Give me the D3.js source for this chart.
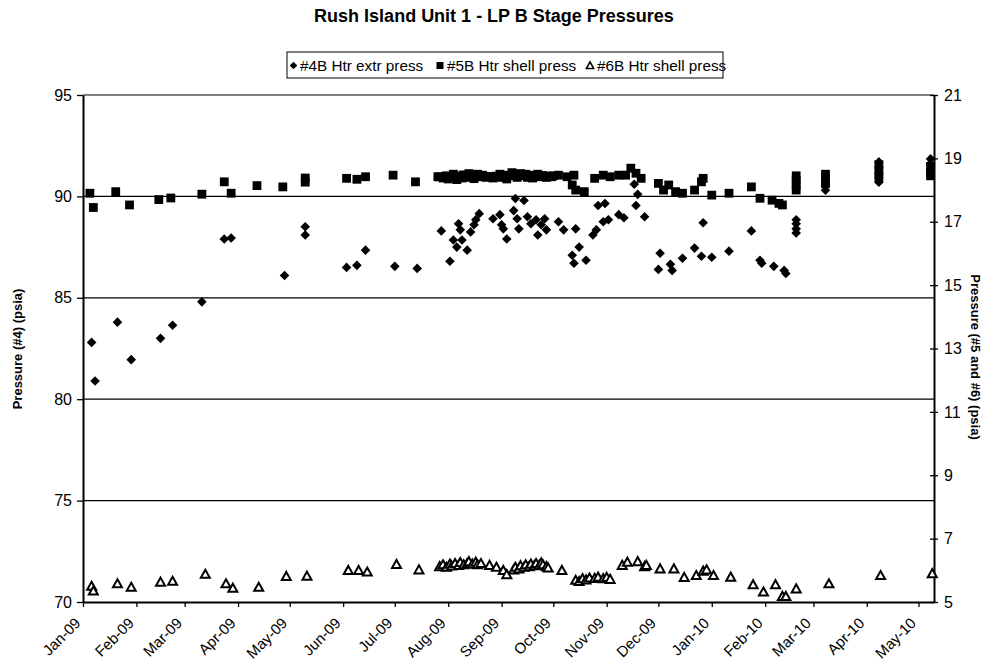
<!DOCTYPE html>
<html>
<head>
<meta charset="utf-8">
<script src="https://cdn.jsdelivr.net/npm/d3@7"></script>
<style>
  body { margin: 0; background: #fff; }
  svg text { font-family: "Liberation Sans", Arial, sans-serif; fill: #000; }
</style>
</head>
<body>
<svg id="chart" width="985" height="664"></svg>
<script>
// month ticks on the date axis and their labels
const monthTicks = ["2009-01-01", "2009-02-01", "2009-03-01", "2009-04-01", "2009-05-01",
                    "2009-06-01", "2009-07-01", "2009-08-01", "2009-09-01", "2009-10-01",
                    "2009-11-01", "2009-12-01", "2010-01-01", "2010-02-01", "2010-03-01",
                    "2010-04-01", "2010-05-01"];
const monthLabels = ["Jan-09", "Feb-09", "Mar-09", "Apr-09", "May-09", "Jun-09", "Jul-09",
                     "Aug-09", "Sep-09", "Oct-09", "Nov-09", "Dec-09", "Jan-10", "Feb-10",
                     "Mar-10", "Apr-10", "May-10"];
const leftTicks = [70, 75, 80, 85, 90, 95];
const rightTicks = [5, 7, 9, 11, 13, 15, 17, 19, 21];

// #4B Htr extr press (left axis)
const extr4B = [
  ["2009-01-06", 82.8], ["2009-01-08", 80.9], ["2009-01-21", 83.8], ["2009-01-29", 81.95],
  ["2009-02-15", 83.0], ["2009-02-22", 83.65], ["2009-03-11", 84.8], ["2009-03-24", 87.9],
  ["2009-03-28", 87.95], ["2009-04-28", 86.1], ["2009-05-10", 88.5], ["2009-05-10", 88.1],
  ["2009-06-03", 86.5], ["2009-06-09", 86.6], ["2009-06-14", 87.35], ["2009-07-01", 86.55],
  ["2009-07-14", 86.45], ["2009-07-28", 88.3], ["2009-08-02", 86.8], ["2009-08-04", 87.85],
  ["2009-08-06", 87.5], ["2009-08-07", 88.65], ["2009-08-08", 88.35], ["2009-08-09", 87.85],
  ["2009-08-12", 87.35], ["2009-08-14", 88.25], ["2009-08-16", 88.6], ["2009-08-17", 88.85],
  ["2009-08-19", 89.15], ["2009-08-27", 88.9], ["2009-08-31", 89.1], ["2009-09-01", 88.6],
  ["2009-09-02", 88.4], ["2009-09-04", 87.9], ["2009-09-08", 89.3], ["2009-09-09", 89.9],
  ["2009-09-10", 88.9], ["2009-09-11", 88.4], ["2009-09-14", 89.8], ["2009-09-16", 89.0],
  ["2009-09-18", 88.65], ["2009-09-21", 88.85], ["2009-09-22", 88.1], ["2009-09-24", 88.6],
  ["2009-09-26", 88.9], ["2009-09-27", 88.35], ["2009-10-04", 88.75], ["2009-10-07", 88.35],
  ["2009-10-12", 87.1], ["2009-10-13", 86.7], ["2009-10-14", 88.4], ["2009-10-16", 87.5],
  ["2009-10-20", 86.85], ["2009-10-24", 88.1], ["2009-10-26", 88.35], ["2009-10-27", 89.55],
  ["2009-10-30", 88.75], ["2009-10-31", 89.65], ["2009-11-02", 88.85], ["2009-11-08", 89.1],
  ["2009-11-11", 88.95], ["2009-11-17", 90.6], ["2009-11-18", 89.55], ["2009-11-19", 90.1],
  ["2009-11-23", 89.0], ["2009-12-01", 86.4], ["2009-12-02", 87.2], ["2009-12-08", 86.65],
  ["2009-12-09", 86.35], ["2009-12-15", 86.95], ["2009-12-22", 87.45], ["2009-12-26", 87.05],
  ["2009-12-27", 88.7], ["2010-01-01", 87.0], ["2010-01-11", 87.3], ["2010-01-24", 88.3],
  ["2010-01-29", 86.85], ["2010-01-30", 86.7], ["2010-02-06", 86.55], ["2010-02-12", 86.35],
  ["2010-02-13", 86.2], ["2010-02-19", 88.85], ["2010-02-19", 88.65], ["2010-02-19", 88.4],
  ["2010-02-19", 88.2], ["2010-03-08", 90.55], ["2010-03-08", 90.3], ["2010-04-08", 91.7],
  ["2010-04-08", 91.45], ["2010-04-08", 91.2], ["2010-04-08", 90.95], ["2010-04-08", 90.7],
  ["2010-05-08", 91.85], ["2010-05-08", 91.6]
];

// #5B Htr shell press (right axis)
const shell5B = [
  ["2009-01-05", 17.9], ["2009-01-07", 17.45], ["2009-01-20", 17.95], ["2009-01-28", 17.53],
  ["2009-02-14", 17.7], ["2009-02-21", 17.75], ["2009-03-11", 17.87], ["2009-03-24", 18.26],
  ["2009-03-28", 17.9], ["2009-04-12", 18.14], ["2009-04-27", 18.1], ["2009-05-10", 18.38],
  ["2009-05-10", 18.25], ["2009-06-03", 18.37], ["2009-06-09", 18.34], ["2009-06-14", 18.42],
  ["2009-06-30", 18.47], ["2009-07-13", 18.26], ["2009-07-26", 18.42], ["2009-07-27", 18.42],
  ["2009-07-29", 18.38], ["2009-07-31", 18.45], ["2009-08-01", 18.35], ["2009-08-03", 18.4],
  ["2009-08-04", 18.5], ["2009-08-06", 18.33], ["2009-08-07", 18.45], ["2009-08-09", 18.38],
  ["2009-08-10", 18.48], ["2009-08-12", 18.4], ["2009-08-13", 18.52], ["2009-08-15", 18.44],
  ["2009-08-16", 18.36], ["2009-08-18", 18.5], ["2009-08-19", 18.42], ["2009-08-21", 18.47],
  ["2009-08-23", 18.4], ["2009-08-25", 18.43], ["2009-08-27", 18.38], ["2009-08-29", 18.44],
  ["2009-08-31", 18.5], ["2009-09-01", 18.4], ["2009-09-03", 18.47], ["2009-09-04", 18.35],
  ["2009-09-06", 18.45], ["2009-09-07", 18.55], ["2009-09-09", 18.48], ["2009-09-10", 18.4],
  ["2009-09-12", 18.52], ["2009-09-13", 18.45], ["2009-09-15", 18.5], ["2009-09-16", 18.4],
  ["2009-09-18", 18.47], ["2009-09-19", 18.38], ["2009-09-21", 18.45], ["2009-09-22", 18.5],
  ["2009-09-24", 18.42], ["2009-09-25", 18.46], ["2009-09-27", 18.4], ["2009-09-28", 18.44],
  ["2009-09-30", 18.42], ["2009-10-01", 18.45], ["2009-10-04", 18.47], ["2009-10-09", 18.42],
  ["2009-10-12", 18.16], ["2009-10-13", 18.47], ["2009-10-14", 18.0], ["2009-10-19", 17.95],
  ["2009-10-25", 18.37], ["2009-10-30", 18.47], ["2009-11-03", 18.42], ["2009-11-08", 18.47],
  ["2009-11-12", 18.47], ["2009-11-15", 18.69], ["2009-11-18", 18.53], ["2009-11-21", 18.37],
  ["2009-12-01", 18.21], ["2009-12-04", 18.0], ["2009-12-07", 18.16], ["2009-12-11", 17.95],
  ["2009-12-15", 17.9], ["2009-12-22", 18.0], ["2009-12-26", 18.26], ["2009-12-27", 18.37],
  ["2010-01-01", 17.84], ["2010-01-11", 17.9], ["2010-01-24", 18.1], ["2010-01-29", 17.74],
  ["2010-02-05", 17.68], ["2010-02-09", 17.58], ["2010-02-11", 17.53], ["2010-02-19", 18.45],
  ["2010-02-19", 18.3], ["2010-02-19", 18.15], ["2010-02-19", 18.0], ["2010-03-08", 18.5],
  ["2010-03-08", 18.35], ["2010-03-08", 18.2], ["2010-04-08", 18.8], ["2010-04-08", 18.6],
  ["2010-04-08", 18.4], ["2010-05-08", 18.75], ["2010-05-08", 18.55], ["2010-05-08", 18.45]
];

// #6B Htr shell press (right axis)
const shell6B = [
  ["2009-01-06", 5.5], ["2009-01-07", 5.35], ["2009-01-21", 5.58], ["2009-01-29", 5.47],
  ["2009-02-15", 5.63], ["2009-02-22", 5.66], ["2009-03-13", 5.88], ["2009-03-25", 5.58],
  ["2009-03-29", 5.44], ["2009-04-13", 5.47], ["2009-04-29", 5.81], ["2009-05-11", 5.82],
  ["2009-06-04", 6.0], ["2009-06-10", 6.0], ["2009-06-15", 5.95], ["2009-07-02", 6.19],
  ["2009-07-15", 6.02], ["2009-07-27", 6.12], ["2009-07-29", 6.18], ["2009-07-31", 6.1],
  ["2009-08-02", 6.2], ["2009-08-03", 6.14], ["2009-08-05", 6.22], ["2009-08-07", 6.16],
  ["2009-08-08", 6.25], ["2009-08-10", 6.18], ["2009-08-12", 6.22], ["2009-08-13", 6.28],
  ["2009-08-15", 6.2], ["2009-08-17", 6.26], ["2009-08-18", 6.18], ["2009-08-20", 6.22],
  ["2009-08-25", 6.16], ["2009-08-29", 6.1], ["2009-09-02", 6.0], ["2009-09-04", 5.87],
  ["2009-09-08", 6.02], ["2009-09-09", 6.1], ["2009-09-11", 6.05], ["2009-09-12", 6.15],
  ["2009-09-14", 6.1], ["2009-09-15", 6.18], ["2009-09-17", 6.12], ["2009-09-18", 6.2],
  ["2009-09-20", 6.15], ["2009-09-21", 6.22], ["2009-09-23", 6.17], ["2009-09-24", 6.24],
  ["2009-09-25", 6.18], ["2009-09-27", 6.12], ["2009-09-28", 6.08], ["2009-10-06", 6.0],
  ["2009-10-14", 5.69], ["2009-10-16", 5.65], ["2009-10-18", 5.74], ["2009-10-20", 5.7],
  ["2009-10-22", 5.76], ["2009-10-25", 5.75], ["2009-10-27", 5.79], ["2009-10-30", 5.74],
  ["2009-11-01", 5.78], ["2009-11-03", 5.72], ["2009-11-10", 6.16], ["2009-11-13", 6.26],
  ["2009-11-19", 6.28], ["2009-11-23", 6.12], ["2009-11-24", 6.16], ["2009-12-02", 6.05],
  ["2009-12-10", 6.05], ["2009-12-16", 5.78], ["2009-12-23", 5.84], ["2009-12-27", 5.98],
  ["2009-12-29", 6.02], ["2010-01-02", 5.84], ["2010-01-12", 5.79], ["2010-01-25", 5.55],
  ["2010-01-31", 5.32], ["2010-02-07", 5.55], ["2010-02-11", 5.18], ["2010-02-13", 5.18],
  ["2010-02-19", 5.42], ["2010-03-10", 5.58], ["2010-04-09", 5.84], ["2010-05-09", 5.9]
];

const parse = d3.timeParse("%Y-%m-%d");
const plotLeft = 83, plotRight = 934, plotTop = 95, plotBottom = 602;

var svg = d3.select("#chart");

var x = d3.scaleTime()
    .domain([parse("2009-01-01"), parse("2010-05-10")])
    .range([plotLeft, plotRight]);
var yL = d3.scaleLinear().domain([70, 95]).range([plotBottom, plotTop]);
var yR = d3.scaleLinear().domain([5, 21]).range([plotBottom, plotTop]);

// title and legend
svg.append("text")
    .attr("x", 494).attr("y", 22)
    .attr("text-anchor", "middle")
    .style("font-size", "18px").style("font-weight", "bold")
    .text("Rush Island Unit 1 - LP B Stage Pressures");

var legend = svg.append("g");
legend.append("rect")
    .attr("x", 287).attr("y", 52).attr("width", 436).attr("height", 26)
    .attr("fill", "none").attr("stroke", "#000").attr("stroke-width", 1);

// marker shapes
var diamondPath = "M0,-4.8L4.8,0L0,4.8L-4.8,0Z";
var squarePath = "M-4.4,-4.4H4.4V4.4H-4.4Z";
var trianglePath = "M0,-4.4L4.5,3.7L-4.5,3.7Z";

function drawMarker(sel, kind) {
    if (kind === "diamond") sel.attr("d", diamondPath).attr("fill", "#000");
    else if (kind === "square") sel.attr("d", squarePath).attr("fill", "#000");
    else sel.attr("d", trianglePath).attr("fill", "#fff")
            .attr("stroke", "#000").attr("stroke-width", 2).attr("stroke-linejoin", "miter");
}

var legendItems = [
    { kind: "diamond", label: "#4B Htr extr press", mx: 293.5, tx: 300 },
    { kind: "square", label: "#5B Htr shell press", mx: 440, tx: 447 },
    { kind: "triangle", label: "#6B Htr shell press", mx: 590, tx: 597 }
];
legendItems.forEach(function(it) {
    legend.append("path")
        .attr("transform", "translate(" + it.mx + ",65.5) scale(0.8)")
        .call(drawMarker, it.kind);
    legend.append("text")
        .attr("x", it.tx).attr("y", 70.5)
        .style("font-size", "15.3px")
        .text(it.label);
});

// gridlines from left axis values
svg.append("g").selectAll("line")
    .data(leftTicks.filter(d => d > 70))
    .join("line")
    .attr("x1", plotLeft).attr("x2", plotRight)
    .attr("y1", d => yL(d)).attr("y2", d => yL(d))
    .attr("stroke", "#000").attr("stroke-width", 1.2);

// axes
var xAxis = svg.append("g")
    .attr("transform", "translate(0," + plotBottom + ")")
    .call(d3.axisBottom(x)
        .tickValues(monthTicks.map(parse))
        .tickFormat((d, i) => monthLabels[i])
        .tickSize(5).tickSizeOuter(0));
xAxis.selectAll("text")
    .attr("x", 0).attr("y", 0).attr("dy", 0)
    .attr("text-anchor", "end")
    .attr("transform", "translate(-2,22) rotate(-45)")
    .style("font-size", "15px");

var leftAxis = svg.append("g")
    .attr("transform", "translate(" + plotLeft + ",0)")
    .call(d3.axisLeft(yL).tickValues(leftTicks).tickSize(6).tickSizeOuter(0).tickPadding(5));
leftAxis.selectAll("text").style("font-size", "16px");

var rightAxis = svg.append("g")
    .attr("transform", "translate(" + plotRight + ",0)")
    .call(d3.axisRight(yR).tickValues(rightTicks).tickSize(4).tickSizeOuter(0).tickPadding(6));
rightAxis.selectAll(".tick line").attr("x1", -4).attr("x2", 4);
rightAxis.selectAll("text").style("font-size", "16px");

svg.selectAll(".domain").attr("stroke", "#000").attr("stroke-width", 2);
svg.selectAll(".tick line").attr("stroke", "#000").attr("stroke-width", 1.3);

// axis titles
svg.append("text")
    .attr("transform", "translate(22,349) rotate(-90)")
    .attr("text-anchor", "middle")
    .style("font-size", "13px").style("font-weight", "bold")
    .text("Pressure (#4) (psia)");
svg.append("text")
    .attr("transform", "translate(971,357) rotate(90)")
    .attr("text-anchor", "middle")
    .style("font-size", "13px").style("font-weight", "bold")
    .text("Pressure (#5 and #6) (psia)");

// points
svg.append("g").selectAll("path")
    .data(shell6B).join("path")
    .attr("transform", d => "translate(" + x(parse(d[0])) + "," + yR(d[1]) + ")")
    .call(drawMarker, "triangle");
svg.append("g").selectAll("path")
    .data(shell5B).join("path")
    .attr("transform", d => "translate(" + x(parse(d[0])) + "," + yR(d[1]) + ")")
    .call(drawMarker, "square");
svg.append("g").selectAll("path")
    .data(extr4B).join("path")
    .attr("transform", d => "translate(" + x(parse(d[0])) + "," + yL(d[1]) + ")")
    .call(drawMarker, "diamond");
</script>
</body>
</html>
